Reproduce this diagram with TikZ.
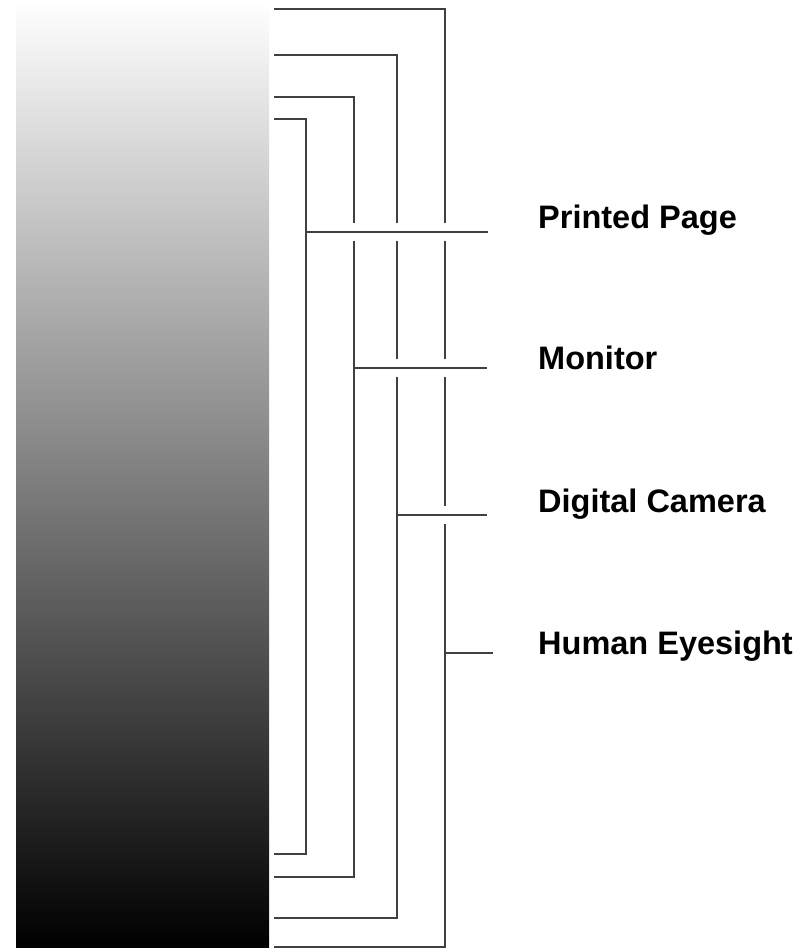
\documentclass[tikz,border=0pt]{standalone}
\usepackage{fontspec}
\setmainfont{Liberation Sans}
\begin{document}
\begin{tikzpicture}[x=1pt,y=-1pt,
  bracket/.style={draw=black!75, line width=1.7pt},
  lbl/.style={anchor=base west, inner sep=0pt, font=\bfseries\fontsize{32.5}{38}\selectfont}]
\useasboundingbox (0,0) rectangle (807,949);
% gradient bar
\shade[top color=white, bottom color=black] (16,0) rectangle (269,947);

% bracket 1 (Printed Page)
\coordinate (b1t) at (274,119);
\coordinate (b1b) at (274,854);
\coordinate (b1s) at (306,232);
\coordinate (e1) at (488,232);
% bracket 2 (Monitor)
\coordinate (b2t) at (274,97);
\coordinate (b2b) at (274,877);
\coordinate (b2s) at (354,368);
\coordinate (e2) at (487,368);
% bracket 3 (Digital Camera)
\coordinate (b3t) at (274,55);
\coordinate (b3b) at (274,918);
\coordinate (b3s) at (397,515);
\coordinate (e3) at (487,515);
% bracket 4 (Human Eyesight)
\coordinate (b4t) at (274,9);
\coordinate (b4b) at (274,947);
\coordinate (b4s) at (445,653);
\coordinate (e4) at (493,653);

% gap end points
\coordinate (g2a) at (354,223); \coordinate (g2b) at (354,241);
\coordinate (g3a) at (397,223); \coordinate (g3b) at (397,241);
\coordinate (g3c) at (397,359); \coordinate (g3d) at (397,377);
\coordinate (g4a) at (445,223); \coordinate (g4b) at (445,241);
\coordinate (g4c) at (445,359); \coordinate (g4d) at (445,377);
\coordinate (g4e) at (445,506); \coordinate (g4f) at (445,524);

% brackets
\draw[bracket] (b1t) -| (b1s) |- (b1b);
\draw[bracket] (b2t) -| (g2a);
\draw[bracket] (g2b) |- (b2b);
\draw[bracket] (b3t) -| (g3a);
\draw[bracket] (g3b) -- (g3c);
\draw[bracket] (g3d) |- (b3b);
\draw[bracket] (b4t) -| (g4a);
\draw[bracket] (g4b) -- (g4c);
\draw[bracket] (g4d) -- (g4e);
\draw[bracket] (g4f) |- (b4b);

% stubs
\draw[bracket] (b1s) -- (e1);
\draw[bracket] (b2s) -- (e2);
\draw[bracket] (b3s) -- (e3);
\draw[bracket] (b4s) -- (e4);

% labels
\node[lbl] (l1) at (538,229) {Printed Page};
\node[lbl] (l2) at (538,369) {Monitor};
\node[lbl] (l3) at (538,512) {Digital Camera};
\node[lbl] (l4) at (538,654) {Human Eyesight};
\end{tikzpicture}
\end{document}
